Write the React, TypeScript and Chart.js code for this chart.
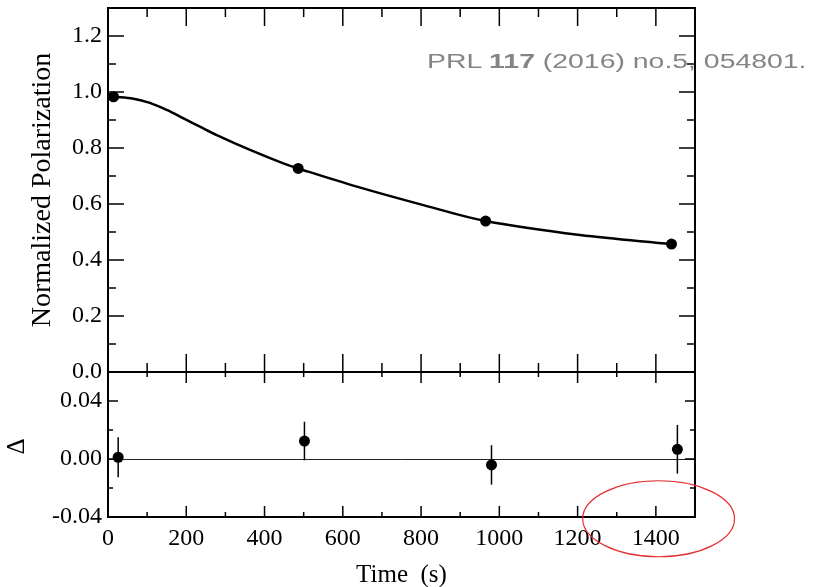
import { useEffect, useRef } from 'react';
import { Chart, registerables } from 'chart.js';

Chart.register(...registerables);

// Measured polarization (normalized) vs. time
const measuredTime = [14, 486, 965, 1440];
const measuredPolarization = [0.983, 0.727, 0.539, 0.457];

// Fitted decay curve, sampled along the line
const fitTime = [14, 65, 107, 150, 193, 235, 278, 363, 448, 486, 636, 806, 965, 1206, 1440];
const fitPolarization = [0.983, 0.976, 0.961, 0.936, 0.906, 0.876, 0.846, 0.793, 0.745, 0.727, 0.662, 0.596, 0.539, 0.489, 0.457];

// Residuals (data - fit) with their uncertainties
const residualTime = [26, 502, 980, 1455];
const residualValue = [0.0012, 0.0124, -0.0041, 0.0067];
const residualError = [0.0138, 0.0133, 0.0136, 0.0168];

// Labelled ticks
const timeTickLabels = ['0', '200', '400', '600', '800', '1000', '1200', '1400'];
const polarizationTickLabels = ['0.0', '0.2', '0.4', '0.6', '0.8', '1.0', '1.2'];
const residualTickLabels = ['-0.04', '0.00', '0.04'];

// Highlight ring around the late-time region (centre and radii in axis units)
const highlightCenter = [1407, -0.0412];
const highlightRadii = [194, 0.0262];

const citationParts = ['PRL ', '117', ' (2016) no.5, 054801.'];

const SERIF = '"Liberation Serif", "Times New Roman", serif';

const panelsPlugin = {
  id: 'panels',
  beforeDatasetsDraw(chart: any) {
    const { ctx } = chart;
    const x = chart.scales.x;
    const yRes = chart.scales.yRes;
    const y0 = Math.round(yRes.getPixelForValue(0)) + 0.5;
    ctx.save();
    ctx.strokeStyle = '#222';
    ctx.lineWidth = 1;
    ctx.beginPath();
    ctx.moveTo(x.left, y0);
    ctx.lineTo(x.right, y0);
    ctx.stroke();
    ctx.restore();
  },
  afterDatasetsDraw(chart: any) {
    const { ctx } = chart;
    const x = chart.scales.x;
    const yRes = chart.scales.yRes;
    ctx.save();
    ctx.strokeStyle = '#000';
    ctx.lineWidth = 1.5;
    residualTime.forEach((t, i) => {
      const px = x.getPixelForValue(t);
      ctx.beginPath();
      ctx.moveTo(px, yRes.getPixelForValue(residualValue[i] - residualError[i]));
      ctx.lineTo(px, yRes.getPixelForValue(residualValue[i] + residualError[i]));
      ctx.stroke();
    });
    ctx.restore();
  },
  afterDraw(chart: any) {
    const { ctx } = chart;
    const x = chart.scales.x;
    const yTop = chart.scales.yTop;
    const yRes = chart.scales.yRes;
    const L = x.left;
    const R = x.right;

    ctx.save();
    ctx.strokeStyle = '#000';

    // Inward tick marks
    ctx.lineWidth = 1.5;
    const line = (x1: number, y1: number, x2: number, y2: number) => {
      ctx.beginPath();
      ctx.moveTo(x1, y1);
      ctx.lineTo(x2, y2);
      ctx.stroke();
    };
    x.ticks.forEach((tk: any) => {
      const v = tk.value;
      if (v <= x.min || v >= x.max) return;
      const px = x.getPixelForValue(v);
      const major = Math.round(v) % 200 === 0;
      const lt = major ? 18 : 9;
      const lb = major ? 11 : 5;
      line(px, yTop.top, px, yTop.top + lt);
      line(px, yTop.bottom, px, yTop.bottom - lt);
      line(px, yRes.top, px, yRes.top + lb);
      line(px, yRes.bottom, px, yRes.bottom - lb);
    });
    yTop.ticks.forEach((tk: any) => {
      const v = tk.value;
      if (v <= yTop.min + 1e-9 || v >= yTop.max - 1e-9) return;
      const py = yTop.getPixelForValue(v);
      const major = Math.round(v * 10) % 2 === 0;
      const len = major ? 16 : 8;
      line(L, py, L + len, py);
      line(R, py, R - len, py);
    });
    yRes.ticks.forEach((tk: any) => {
      const v = tk.value;
      if (v <= yRes.min + 1e-9 || v >= yRes.max - 1e-9) return;
      const py = yRes.getPixelForValue(v);
      const major = Math.round(v * 100) % 4 === 0;
      const len = major ? 10 : 5;
      line(L, py, L + len, py);
      line(R, py, R - len, py);
    });

    // Panel frames
    ctx.lineWidth = 2;
    ctx.strokeRect(L, yTop.top, R - L, yTop.bottom - yTop.top);
    ctx.strokeRect(L, yRes.top, R - L, yRes.bottom - yRes.top);

    // Axis titles
    ctx.fillStyle = '#000';
    ctx.textAlign = 'center';
    ctx.textBaseline = 'middle';
    ctx.font = `28px ${SERIF}`;
    ctx.save();
    ctx.translate(43, (yTop.top + yTop.bottom) / 2);
    ctx.rotate(-Math.PI / 2);
    ctx.fillText('Normalized Polarization', 0, 0);
    ctx.restore();
    ctx.font = `25px ${SERIF}`;
    ctx.save();
    ctx.translate(17, (yRes.top + yRes.bottom) / 2 + 2);
    ctx.rotate(-Math.PI / 2);
    ctx.fillText('Δ', 0, 0);
    ctx.restore();
    ctx.textBaseline = 'alphabetic';
    ctx.font = `25px ${SERIF}`;
    ctx.fillText('Time  (s)', (L + R) / 2, 582);

    // Highlight ring
    const cx = x.getPixelForValue(highlightCenter[0]);
    const cy = yRes.getPixelForValue(highlightCenter[1]);
    const rx = x.getPixelForValue(highlightCenter[0] + highlightRadii[0]) - cx;
    const ry = cy - yRes.getPixelForValue(highlightCenter[1] + highlightRadii[1]);
    ctx.strokeStyle = '#e53030';
    ctx.lineWidth = 1.2;
    ctx.beginPath();
    ctx.ellipse(cx, cy, rx, ry, 0, 0, Math.PI * 2);
    ctx.stroke();

    ctx.restore();
  },
};

const tickFont = { family: SERIF, size: 24 };

export default function App() {
  const canvasRef = useRef<HTMLCanvasElement | null>(null);

  useEffect(() => {
    const canvas = canvasRef.current;
    if (!canvas) return;
    const chart = new Chart(canvas, {
      type: 'scatter',
      data: {
        datasets: [
          {
            label: 'fit',
            data: fitTime.map((t, i) => ({ x: t, y: fitPolarization[i] })),
            yAxisID: 'yTop',
            showLine: true,
            borderColor: '#000',
            borderWidth: 2.5,
            pointRadius: 0,
            tension: 0.35,
          },
          {
            label: 'measured',
            data: measuredTime.map((t, i) => ({ x: t, y: measuredPolarization[i] })),
            yAxisID: 'yTop',
            showLine: false,
            pointRadius: 5.5,
            backgroundColor: '#000',
            borderWidth: 0,
          },
          {
            label: 'residual',
            data: residualTime.map((t, i) => ({ x: t, y: residualValue[i] })),
            yAxisID: 'yRes',
            showLine: false,
            pointRadius: 5.5,
            backgroundColor: '#000',
            borderWidth: 0,
          },
        ],
      } as any,
      options: {
        responsive: false,
        animation: false,
        devicePixelRatio: 1,
        layout: { padding: { top: 8, right: 122, bottom: 0, left: 0 } },
        plugins: { legend: { display: false }, tooltip: { enabled: false } },
        scales: {
          x: {
            type: 'linear',
            position: 'bottom',
            min: 0,
            max: 1500,
            grid: { display: false, drawTicks: false },
            border: { display: false },
            ticks: {
              stepSize: 100,
              autoSkip: false,
              maxRotation: 0,
              padding: 7,
              color: '#000',
              font: tickFont,
              callback: (v: any) => {
                const s = String(Math.round(Number(v)));
                return timeTickLabels.includes(s) ? s : '';
              },
            },
            afterFit: (s: any) => {
              s.height = 70;
              s.paddingLeft = 0;
              s.paddingRight = 0;
            },
          },
          // Residual panel sits under the main panel in the shared stack
          yRes: {
            type: 'linear',
            position: 'left',
            stack: 'panels',
            stackWeight: 145,
            min: -0.04,
            max: 0.06,
            grid: { display: false, drawTicks: false },
            border: { display: false },
            ticks: {
              stepSize: 0.02,
              autoSkip: false,
              padding: 6,
              color: '#000',
              font: tickFont,
              callback: (v: any) => {
                const n = Math.abs(Number(v)) < 1e-9 ? 0 : Number(v);
                const s = n.toFixed(2);
                return residualTickLabels.includes(s) ? s : '';
              },
            },
            afterFit: (s: any) => {
              s.width = 108;
              s.paddingTop = 0;
              s.paddingBottom = 0;
            },
          },
          yTop: {
            type: 'linear',
            position: 'left',
            stack: 'panels',
            stackWeight: 364,
            min: 0,
            max: 1.3,
            grid: { display: false, drawTicks: false },
            border: { display: false },
            ticks: {
              stepSize: 0.1,
              autoSkip: false,
              padding: 6,
              color: '#000',
              font: tickFont,
              callback: (v: any) => {
                const s = Number(v).toFixed(1);
                return polarizationTickLabels.includes(s) ? s : '';
              },
            },
            afterFit: (s: any) => {
              s.width = 108;
              s.paddingTop = 0;
              s.paddingBottom = 0;
            },
          },
        },
      } as any,
      plugins: [panelsPlugin],
    });
    return () => chart.destroy();
  }, []);

  return (
    <div style={{ position: 'absolute', left: 0, top: 0, width: 817, height: 587, background: '#fff' }}>
      <canvas ref={canvasRef} width={817} height={587} />
      <div
        style={{
          position: 'absolute',
          left: 427,
          top: 51,
          font: '20px "Liberation Sans", Arial, sans-serif',
          lineHeight: '20px',
          color: '#858585',
          whiteSpace: 'pre',
          transform: 'scaleX(1.42)',
          transformOrigin: 'left top',
        }}
      >
        {citationParts[0]}
        <b>{citationParts[1]}</b>
        {citationParts[2]}
      </div>
    </div>
  );
}
